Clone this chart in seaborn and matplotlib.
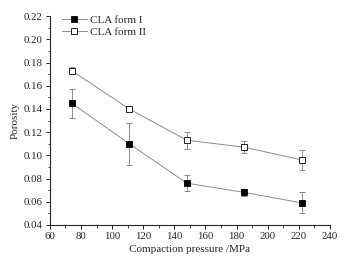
import pandas as pd
import seaborn as sns
import matplotlib.pyplot as plt
from matplotlib.ticker import MultipleLocator
from matplotlib.lines import Line2D

pressure = [74, 111, 148, 185, 222]
form1 = [0.145, 0.110, 0.076, 0.068, 0.059]
form1_err = [0.0125, 0.018, 0.007, 0.003, 0.009]
form2 = [0.173, 0.140, 0.113, 0.107, 0.096]
form2_err = [0.003, 0.002, 0.0075, 0.005, 0.009]

df = pd.DataFrame({
    "pressure": pressure * 2,
    "porosity": form1 + form2,
    "err": form1_err + form2_err,
    "form": ["CLA form I"] * 5 + ["CLA form II"] * 5,
})

sns.set_style("ticks")
plt.rcParams["font.family"] = ["Liberation Serif", "DejaVu Serif"]

fig = plt.figure(figsize=(3.51, 2.64), dpi=100)
ax = fig.add_axes([0.142, 0.148, 0.798, 0.791])

line_col = "#8c8c8c"
styles = {"CLA form I": "black", "CLA form II": "white"}
handles = []
for name, face in styles.items():
    sub = df[df["form"] == name]
    ax.errorbar(sub["pressure"], sub["porosity"], yerr=sub["err"], fmt="none",
                ecolor=line_col, elinewidth=0.7, capsize=2.2, capthick=0.7, zorder=2)
    sns.lineplot(data=sub, x="pressure", y="porosity", ax=ax, color=line_col,
                 linewidth=0.7, marker="s", markersize=4.3, markerfacecolor=face,
                 markeredgecolor="black", markeredgewidth=0.6, zorder=3)
    handles.append(Line2D([], [], color=line_col, linewidth=0.7, marker="s", markersize=4.3,
                          markerfacecolor=face, markeredgecolor="black",
                          markeredgewidth=0.6, label=name))

ax.set_xlim(60, 240)
ax.set_ylim(0.04, 0.22)
ax.xaxis.set_major_locator(MultipleLocator(20))
ax.xaxis.set_minor_locator(MultipleLocator(10))
ax.yaxis.set_major_locator(MultipleLocator(0.02))
ax.yaxis.set_minor_locator(MultipleLocator(0.01))
ax.yaxis.set_major_formatter(plt.FormatStrFormatter("%.2f"))
ax.tick_params(which="major", length=3, width=0.7, labelsize=7.8, pad=2)
ax.tick_params(which="minor", length=1.8, width=0.6)
for s in ["left", "bottom"]:
    ax.spines[s].set_linewidth(0.8)
sns.despine(ax=ax)

ax.set_xlabel("Compaction pressure /MPa", fontsize=8, labelpad=3)
ax.set_ylabel("Porosity", fontsize=8, labelpad=3)
ax.legend(handles=handles, loc="upper left", frameon=False, fontsize=8,
          handlelength=2.2, handletextpad=0.3, labelspacing=0.2,
          borderaxespad=0.2, bbox_to_anchor=(0.02, 1.035))

fig.savefig("out.png", dpi=100)
